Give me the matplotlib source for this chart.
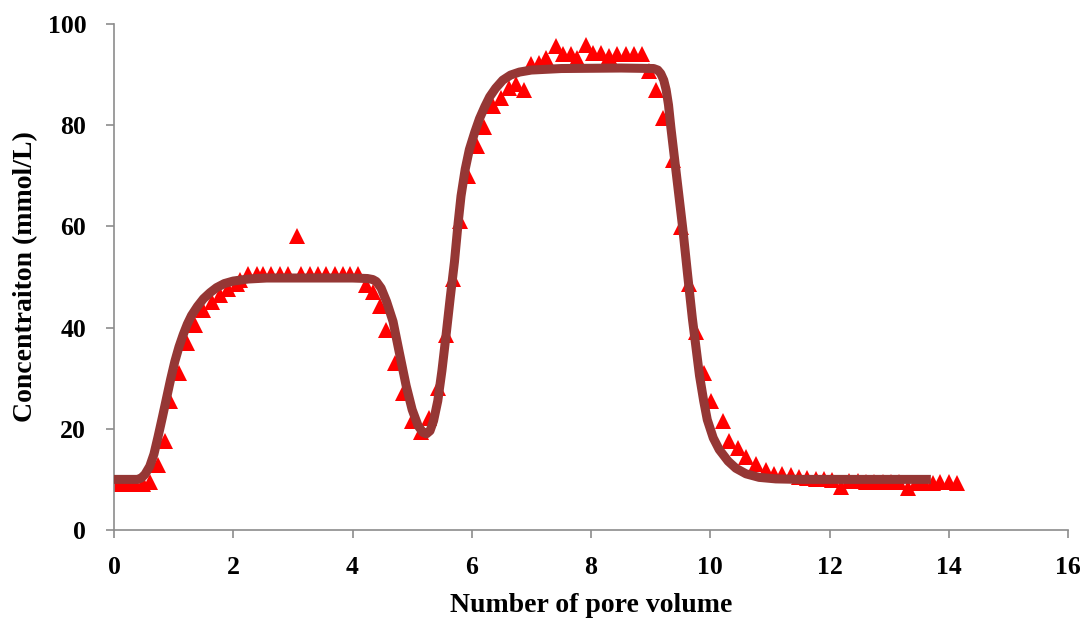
import matplotlib
matplotlib.use("Agg")
import matplotlib.pyplot as plt

# Measured data (triangles)
obs_x = [0.0, 0.12, 0.24, 0.36, 0.48, 0.6, 0.74, 0.85, 0.94, 1.09, 1.23, 1.36, 1.50, 1.64,
         1.78, 1.92, 2.06, 2.11, 2.25, 2.39, 2.50, 2.64, 2.78, 2.92, 3.07, 3.14, 3.28, 3.42,
         3.56, 3.70, 3.84, 3.95, 4.09, 4.23, 4.34, 4.46, 4.57, 4.71, 4.85, 4.99, 5.15, 5.29,
         5.43, 5.57, 5.68, 5.80, 5.93, 6.08, 6.21, 6.35, 6.49, 6.63, 6.75, 6.88, 7.0, 7.13,
         7.25, 7.42, 7.53, 7.66, 7.77, 7.92, 8.03, 8.17, 8.30, 8.44, 8.58, 8.72, 8.86, 8.98,
         9.09, 9.20, 9.37, 9.51, 9.65, 9.76, 9.90, 10.01, 10.21, 10.32, 10.46, 10.60, 10.76,
         10.93, 11.07, 11.21, 11.35, 11.49, 11.63, 11.77, 11.91, 12.05, 12.19, 12.33, 12.47,
         12.61, 12.75, 12.89, 13.03, 13.17, 13.31, 13.45, 13.59, 13.73, 13.86, 14.0, 14.14]
obs_y = [9.0, 9.0, 9.0, 9.0, 9.0, 9.5, 12.9, 17.5, 25.5, 31.0, 36.9, 40.5, 43.5, 45.1,
         46.4, 47.7, 48.6, 49.5, 50.5, 50.5, 50.5, 50.5, 50.5, 50.5, 58.2, 50.5, 50.5, 50.5,
         50.5, 50.5, 50.5, 50.5, 50.5, 48.5, 47.0, 44.3, 39.5, 33.0, 27.1, 21.6, 19.3, 22.2,
         28.1, 38.6, 49.7, 61.1, 69.9, 75.8, 79.7, 83.7, 85.3, 87.3, 88.1, 86.9, 92.0, 92.3,
         93.3, 95.6, 94.0, 94.0, 93.3, 95.9, 94.3, 94.3, 93.6, 94.0, 94.0, 94.0, 94.0, 90.7,
         86.9, 81.4, 73.2, 59.8, 48.7, 39.2, 31.0, 25.5, 21.6, 17.6, 16.3, 14.4, 13.1,
         11.8, 11.0, 11.1, 10.8, 10.5, 10.3, 10.0, 10.0, 9.8, 8.4, 9.6, 9.6,
         9.5, 9.5, 9.5, 9.4, 9.4, 8.3, 9.3, 9.3, 9.3, 9.4, 9.4, 9.3]

# Model curve
fit_x = [0.0, 0.40, 0.46, 0.52, 0.60, 0.67, 0.74, 0.81, 0.88, 0.95, 1.02, 1.09, 1.16, 1.23,
         1.30, 1.40, 1.50, 1.61, 1.72, 1.85, 2.0, 2.25, 2.56, 3.0, 4.0, 4.25, 4.34, 4.40,
         4.48, 4.57, 4.68, 4.79, 4.90, 5.00, 5.10, 5.18, 5.24, 5.30, 5.36, 5.43, 5.50, 5.57,
         5.64, 5.71, 5.77, 5.82, 5.89, 5.96, 6.05, 6.13, 6.22, 6.30, 6.40, 6.52, 6.65, 6.80,
         7.0, 7.5, 8.5, 9.05, 9.12, 9.17, 9.22, 9.26, 9.30, 9.34, 9.43, 9.54, 9.62, 9.70,
         9.82, 9.89, 9.95, 10.05, 10.15, 10.30, 10.43, 10.60, 10.82, 11.10, 11.5, 13.7]
fit_y = [10.0, 10.0, 10.3, 11.0, 12.6, 15.0, 18.5, 22.2, 26.0, 29.8, 33.3, 36.2, 38.6, 40.7,
         42.4, 44.2, 45.7, 46.9, 47.9, 48.7, 49.2, 49.6, 49.8, 49.8, 49.8, 49.7, 49.5, 49.1,
         47.8, 45.2, 41.2, 34.8, 28.5, 23.8, 20.6, 19.3, 19.0, 19.6, 21.6, 25.5, 31.5, 38.6,
         46.0, 53.0, 60.5, 66.0, 71.3, 75.2, 78.6, 81.3, 83.7, 85.6, 87.3, 88.9, 89.9, 90.5,
         90.9, 91.2, 91.3, 91.2, 90.9, 90.2, 88.9, 87.0, 84.0, 79.5, 70.5, 59.5, 50.5, 41.8,
         30.5, 25.5, 21.8, 18.2, 15.9, 13.6, 12.2, 11.1, 10.4, 10.1, 10.0, 10.0]

x_ticks = [0, 2, 4, 6, 8, 10, 12, 14, 16]
y_ticks = [0, 20, 40, 60, 80, 100]

plt.rcParams['font.family'] = ['Liberation Serif', 'DejaVu Serif']
plt.rcParams['font.weight'] = 'bold'

fig = plt.figure(figsize=(10.81, 6.20), dpi=100)
ax = fig.add_axes([114/1081, 1 - 530/620, (1068 - 114)/1081, (530 - 24)/620])

ax.plot(obs_x, obs_y, linestyle='none', marker='^', markersize=11, color='#ff0000',
        markeredgewidth=0, zorder=2)
ax.plot(fit_x, fit_y, color='#953735', linewidth=6.5, solid_capstyle='butt',
        solid_joinstyle='round', zorder=3)

ax.set_xlim(0, 16)
ax.set_ylim(0, 100)
ax.set_xticks(x_ticks)
ax.set_yticks(y_ticks)
ax.set_xticklabels([str(t) for t in x_ticks], fontsize=18.5, fontweight='bold')
ax.set_yticklabels([str(t) for t in y_ticks], fontsize=18.5, fontweight='bold')

for s in ['top', 'right']:
    ax.spines[s].set_visible(False)
for s in ['left', 'bottom']:
    ax.spines[s].set_color('#8c8c8c')
    ax.spines[s].set_linewidth(1.2)
ax.tick_params(axis='both', direction='out', length=6, width=1.2, color='#8c8c8c')
ax.tick_params(axis='x', pad=13)
ax.tick_params(axis='y', pad=14)

ax.set_xlabel('Number of pore volume', fontsize=20, fontweight='bold', labelpad=10)
ax.set_ylabel('Concentraiton (mmol/L)', fontsize=20, fontweight='bold', labelpad=7)

fig.savefig('out.png', dpi=100)
